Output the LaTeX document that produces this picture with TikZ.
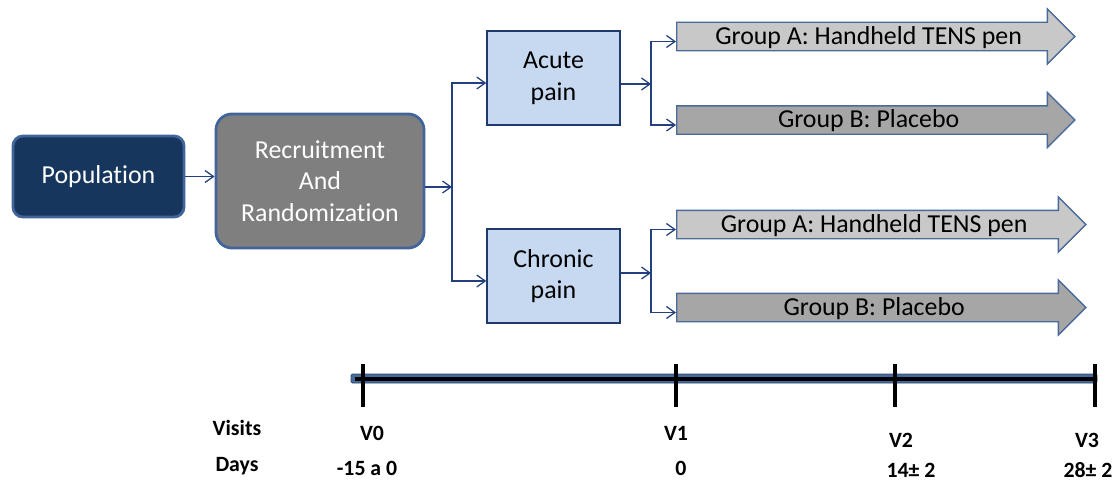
\documentclass[tikz,border=0pt]{standalone}
\usepackage{fontspec}
\setmainfont{Carlito}[Ligatures=CommonOff]
\usetikzlibrary{shapes.arrows,arrows.meta}

\definecolor{popblue}{HTML}{17365D}
\definecolor{edgeblue}{HTML}{41659A}
\definecolor{recgray}{HTML}{7F7F7F}
\definecolor{painblue}{HTML}{C6D9F1}
\definecolor{painedge}{HTML}{1F3A6E}
\definecolor{linknavy}{HTML}{233F7E}
\definecolor{grpA}{HTML}{C8C8C8}
\definecolor{grpB}{HTML}{A6A6A6}
\definecolor{grpedge}{HTML}{4A6A9A}
\definecolor{barblue}{HTML}{46699B}

\begin{document}
\begin{tikzpicture}[x=0.025cm,y=-0.025cm,
  bigfont/.style={font=\fontsize{18.4}{22.5}\selectfont},
  lblfont/.style={font=\fontsize{15.5}{18}\selectfont\bfseries},
  link/.style={draw=linknavy, line width=0.9pt, -{Straight Barb[length=6pt,width=8.5pt]}},
  popbox/.style={draw=edgeblue, line width=2pt, fill=popblue, rounded corners=0.25cm,
    minimum width=4.275cm, minimum height=2.025cm, text=white, bigfont},
  recbox/.style={draw=edgeblue, line width=2pt, fill=recgray, rounded corners=0.4cm,
    minimum width=5.2cm, minimum height=3.35cm, text=white, align=center, bigfont},
  painbox/.style={draw=painedge, line width=1pt, fill=painblue,
    minimum width=3.325cm, minimum height=2.35cm, align=center, bigfont},
  grp/.style={single arrow, draw=grpedge, line width=1pt, bigfont, inner ysep=0pt,
    text height=0.53cm, text depth=0.145cm, single arrow head extend=0.33cm, anchor=tail},
  lbl/.style={lblfont, anchor=base}
]

% Keep the page at the size of the reference
\useasboundingbox (0,0) rectangle (1118,481);

% Population and recruitment
\node[popbox] (pop) at (98.5,176.5) {Population};
\node[recbox] (rec) at (320,181) {Recruitment\\And\\Randomization};

% Pain boxes
\node[painbox] (acute) at (553.5,78) {Acute\\pain};
\node[painbox] (chronic) at (553.5,276) {Chronic\\pain};

% Group arrows
\node[grp, fill=grpA, minimum height=9.95cm] (gA1) at (676,36.5) {Group A: Handheld TENS pen};
\node[grp, fill=grpB, minimum height=9.95cm] (gB1) at (676,120) {Group B: Placebo};
\node[grp, fill=grpA, minimum height=10.225cm] (gA2) at (676,224.5) {Group A: Handheld TENS pen};
\node[grp, fill=grpB, minimum height=10.225cm] (gB2) at (676,307.5) {Group B: Placebo};

% Split points
\coordinate (split1) at (452,187);
\coordinate (split2) at (651,84);
\coordinate (split3) at (651,273);

% Population to recruitment
\draw[link] (pop.east) -- (pop.east -| rec.west);

% Recruitment to the two pain boxes
\draw[link] (rec.east |- split1) -- (split1);
\draw[link] (split1) |- ([yshift=-0.125cm]acute.west);
\draw[link] (split1) |- ([yshift=-0.125cm]chronic.west);

% Acute pain to its groups
\draw[link] (acute.east |- split2) -- (split2);
\draw[link] (split2) |- ([yshift=-0.125cm]gA1.tail);
\draw[link] (split2) |- ([yshift=-0.125cm]gB1.tail);

% Chronic pain to its groups
\draw[link] (chronic.east |- split3) -- (split3);
\draw[link] (split3) |- ([yshift=-0.125cm]gA2.tail);
\draw[link] (split3) |- ([yshift=-0.125cm]gB2.tail);

% Timeline bar
\draw[fill=barblue, draw=edgeblue!70!black, line width=0.5pt, rounded corners=1pt] (351,374) rectangle (1097,383);
\draw[line width=2.5pt] (355,379) -- (1097,379);

% Ticks
\foreach \x/\t in {363/t0,676/t1,895/t2,1095/t3} {
  \coordinate (\t) at (\x,379);
  \draw[line width=2.4pt] (\x,364) -- (\x,407);
}

% Row labels
\node[lbl] (visits) at (237,435) {Visits};
\node[lbl] (days) at (237,471) {Days};

% Visit labels
\node[lbl] (v0) at (372,440) {V0};
\node[lbl] (v1) at (676,440) {V1};
\node[lbl] (v2) at (901,447) {V2};
\node[lbl] (v3) at (1087,447) {V3};

% Day labels
\node[lbl] (d0) at (367,475) {-15 a 0};
\node[lbl] (d1) at (681,475) {0};
\node[lbl] (d2) at (911,477) {14± 2};
\node[lbl] (d3) at (1088,477) {28± 2};

\end{tikzpicture}
\end{document}
